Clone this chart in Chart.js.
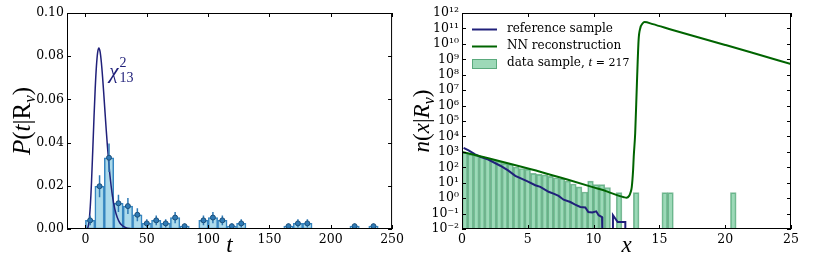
<!doctype html>
<html lang="en">
<head>
<meta charset="UTF-8" />
<title>Test statistic and NN reconstruction</title>
<script src="https://cdn.jsdelivr.net/npm/chart.js"></script>
<style>
    body { margin: 0; background: #fff; }
    #wrap { position: relative; width: 814px; height: 269px; }
    canvas { position: absolute; top: 0; }
</style>
</head>
<body>
<div id="wrap">
    <canvas id="left" width="407" height="269" style="left:0"></canvas>
    <canvas id="right" width="407" height="269" style="left:407px"></canvas>
</div>
<script>
// ---- left panel: distribution of t ----
const tCenters = [3.85, 11.55, 19.25, 26.95, 34.65, 42.35, 50.05, 57.75, 65.45, 73.15, 80.85, 88.55, 96.25, 103.95, 111.65, 119.35,
    127.05, 134.75, 142.45, 150.15, 157.85, 165.55, 173.25, 180.95, 188.65, 196.35, 204.05, 211.75, 219.45, 227.15, 234.85]
const tDensity = [0.0040, 0.0198, 0.0330, 0.0119, 0.0106, 0.0066, 0.0026, 0.0040, 0.0026, 0.0053, 0.0013, null, 0.0040, 0.0053, 0.0040, 0.0013,
    0.0026, null, null, null, null, 0.0013, 0.0026, 0.0026, null, null, null, null, 0.0013, null, 0.0013]
const tError = [0.0023, 0.0051, 0.0066, 0.0040, 0.0037, 0.0030, 0.0019, 0.0023, 0.0019, 0.0026, 0.0013, null, 0.0023, 0.0026, 0.0023, 0.0013,
    0.0019, null, null, null, null, 0.0013, 0.0019, 0.0019, null, null, null, null, 0.0013, null, 0.0013]
const chiT = [0, 1, 2, 3, 4, 5, 6, 7, 8, 9, 10, 11, 12, 13, 14, 15, 16, 17, 18, 19, 20, 22, 24, 26, 28, 30, 33, 36, 40]
const chiP = [0, 0.00002, 0.00064, 0.0036, 0.0106, 0.0220, 0.0364, 0.0515, 0.0651, 0.0755, 0.0818, 0.0838, 0.0820, 0.0772, 0.0704,
    0.0624, 0.0540, 0.0457, 0.0380, 0.0310, 0.0249, 0.0155, 0.0092, 0.0053, 0.0029, 0.0016, 0.0006, 0.0002, 0.00005]
const tTicks = [0, 50, 100, 150, 200, 250]
const pTicks = [0, 0.02, 0.04, 0.06, 0.08, 0.10]

// ---- right panel: n(x|R) ----
const xCenters = [0.217, 0.651, 1.085, 1.519, 1.953, 2.387, 2.821, 3.255, 3.689, 4.123, 4.557, 4.991, 5.425, 5.859, 6.293, 6.727,
    7.161, 7.595, 8.029, 8.463, 8.897, 9.331, 9.765, 10.199, 10.633, 11.067, 11.501, 11.935, 12.369, 12.803, 13.237, 13.671,
    14.105, 14.539, 14.973, 15.407, 15.841, 16.275, 16.709, 17.143, 17.577, 18.011, 18.445, 18.879, 19.313, 19.747, 20.181, 20.615]
const dataCounts = [900, 720, 580, 470, 380, 300, 245, 180, 160, 105, 83, 76, 40, 35, 32, 26,
    21, 18.5, 13, 8.3, 5.4, 2.5, 12.6, 7.6, 7.6, 4.9, null, 2.3, null, null, 2.3, null,
    null, null, null, 2.3, 2.3, null, null, null, null, null, null, null, null, null, null, 2.3]
const refX = [0.12, 0.5, 1.0, 1.39, 2.0, 2.91, 3.5, 4.05, 4.94, 5.57, 5.95, 6.58, 7.0, 7.34, 7.72, 8.23, 8.6, 8.99, 9.37, 9.6, 9.9,
    10.2, 10.38, 10.64, 10.66, 11.0, 11.47, 11.47, 11.83, 12.41, 12.41]
const refY = [1820, 1260, 690, 480, 316, 126, 63, 28, 12.6, 6.9, 5.4, 2.6, 1.9, 1.4, 0.79, 0.56, 0.38, 0.27, 0.25, 0.126, 0.117,
    0.14, 0.078, 0.06, 0.01, null, 0.01, 0.078, 0.028, 0.028, 0.01]
const nnX = [0, 2, 4, 6, 8, 10, 11, 12, 12.3, 12.5, 12.7, 12.8, 12.9, 13.0, 13.05, 13.16, 13.29, 13.42, 13.54, 13.72, 13.87,
    14.5, 16, 18, 20, 22, 25]
const nnY = [1000, 380, 141, 50, 16.2, 5.0, 2.75, 1.35, 1.15, 1.07, 1.41, 2.24, 5.2, 63, 500, 1.6e4, 2.5e7, 1.8e10, 1e11, 2.1e11, 2.6e11,
    1.9e11, 7.9e10, 2.6e10, 8.5e9, 2.75e9, 4.9e8]
const xTicks = [0, 5, 10, 15, 20, 25]
const nExps = [-2, -1, 0, 1, 2, 3, 4, 5, 6, 7, 8, 9, 10, 11, 12]

const NAVY = '#20207a'
const GREEN = '#006400'
const HIST_FILL = 'rgba(60,179,113,0.5)'
const HIST_EDGE = 'rgba(46,139,87,0.6)'
const SERIF = '"DejaVu Serif", serif'
const TITLE_SERIF = '"Liberation Serif", "DejaVu Serif", serif'
const tickFont = { family: SERIF, size: 12.5 }

const sup = { '-': '⁻', '0': '⁰', '1': '¹', '2': '²', '3': '³', '4': '⁴', '5': '⁵', '6': '⁶', '7': '⁷', '8': '⁸', '9': '⁹' }

// draws a run of text pieces, each with its own font and vertical shift
function drawRich(ctx, parts, x, y, align) {
    let w = 0
    for (const p of parts) {
        ctx.font = p.font
        w += ctx.measureText(p.text).width
    }
    let cx = align === 'center' ? x - w / 2 : x
    for (const p of parts) {
        ctx.font = p.font
        ctx.fillText(p.text, cx, y + (p.dy || 0))
        cx += ctx.measureText(p.text).width
    }
}

// black box with inward ticks on all four sides
const frame = {
    id: 'frame',
    afterDatasetsDraw(chart) {
        const { ctx, chartArea: a, scales: { x, y } } = chart
        ctx.save()
        ctx.strokeStyle = '#000'
        ctx.lineWidth = 1
        ctx.beginPath()
        for (const t of x.ticks) {
            const px = Math.round(x.getPixelForValue(t.value)) + 0.5
            ctx.moveTo(px, a.bottom); ctx.lineTo(px, a.bottom - 4)
            ctx.moveTo(px, a.top); ctx.lineTo(px, a.top + 4)
        }
        for (const t of y.ticks) {
            const py = Math.round(y.getPixelForValue(t.value)) + 0.5
            ctx.moveTo(a.left, py); ctx.lineTo(a.left + 4, py)
            ctx.moveTo(a.right, py); ctx.lineTo(a.right - 4, py)
        }
        ctx.stroke()
        ctx.strokeRect(a.left + 0.5, a.top + 0.5, a.width - 1, a.height - 1)
        ctx.restore()
    },
}

function axisTitles(xParts, yParts, yBase) {
    return {
        id: 'axisTitles',
        afterDraw(chart) {
            const { ctx, chartArea: a } = chart
            ctx.save()
            ctx.fillStyle = '#000'
            ctx.textBaseline = 'alphabetic'
            drawRich(ctx, xParts, (a.left + a.right) / 2, 252, 'center')
            ctx.translate(yBase, (a.top + a.bottom) / 2)
            ctx.rotate(-Math.PI / 2)
            drawRich(ctx, yParts, 0, 0, 'center')
            ctx.restore()
        },
    }
}

const IT = 'italic 23px ' + TITLE_SERIF
const RM = '23px ' + TITLE_SERIF
const SUB = 'italic 16px ' + TITLE_SERIF
const IT_L = 'italic 25px ' + TITLE_SERIF
const RM_L = '25px ' + TITLE_SERIF
const SUB_L = 'italic 17px ' + TITLE_SERIF

// error bars under the markers of the left panel
const errorBars = {
    id: 'errorBars',
    beforeDatasetDraw(chart, args) {
        if (args.index !== 2) return
        const { ctx, scales: { x, y } } = chart
        ctx.save()
        ctx.strokeStyle = '#2f7ab5'
        ctx.lineWidth = 1.5
        ctx.beginPath()
        tCenters.forEach((t, i) => {
            if (tDensity[i] === null) return
            const px = x.getPixelForValue(t)
            ctx.moveTo(px, y.getPixelForValue(Math.max(0, tDensity[i] - tError[i])))
            ctx.lineTo(px, y.getPixelForValue(tDensity[i] + tError[i]))
        })
        ctx.stroke()
        ctx.restore()
    },
}

const chiLabel = {
    id: 'chiLabel',
    afterDraw(chart) {
        const { ctx, scales: { x, y } } = chart
        const px = x.getPixelForValue(19.4)
        const py = y.getPixelForValue(0.0699)
        ctx.save()
        ctx.fillStyle = NAVY
        ctx.font = 'italic 21px ' + TITLE_SERIF
        ctx.fillText('χ', px, py)
        const w = ctx.measureText('χ').width
        ctx.font = '14px ' + TITLE_SERIF
        ctx.fillText('2', px + w + 1, py - 11)
        ctx.fillText('13', px + w + 1, py + 4)
        ctx.restore()
    },
}

const legendRight = {
    id: 'legendRight',
    afterDraw(chart) {
        const { ctx, chartArea: a } = chart
        const x0 = a.left + 10
        const tx = a.left + 45
        ctx.save()
        ctx.lineWidth = 2
        ctx.strokeStyle = NAVY
        ctx.beginPath(); ctx.moveTo(x0, 29.5); ctx.lineTo(x0 + 25, 29.5); ctx.stroke()
        ctx.strokeStyle = GREEN
        ctx.beginPath(); ctx.moveTo(x0, 46.5); ctx.lineTo(x0 + 25, 46.5); ctx.stroke()
        ctx.fillStyle = HIST_FILL
        ctx.fillRect(x0, 59, 25, 10)
        ctx.strokeStyle = HIST_EDGE
        ctx.lineWidth = 1
        ctx.strokeRect(x0 + 0.5, 59.5, 24, 9)
        ctx.fillStyle = '#000'
        ctx.textBaseline = 'middle'
        ctx.font = '12px ' + SERIF
        ctx.fillText('reference sample', tx, 29)
        ctx.fillText('NN reconstruction', tx, 46)
        drawRich(ctx, [
            { text: 'data sample, ', font: '12px ' + SERIF },
            { text: 't', font: 'italic 13px ' + TITLE_SERIF },
            { text: ' = 217', font: '11px ' + SERIF },
        ], tx, 63, 'left')
        ctx.restore()
    },
}

const baseTicks = { font: tickFont, color: '#000', autoSkip: false, maxRotation: 0, minRotation: 0 }

new Chart(document.getElementById('left'), {
    type: 'bar',
    data: {
        datasets: [
            {
                type: 'bar',
                data: tCenters.map((t, i) => ({ x: t, y: tDensity[i] })),
                backgroundColor: 'rgba(168,216,234,0.95)',
                borderColor: '#3685c0',
                borderWidth: 1.5,
                borderSkipped: false,
                barPercentage: 1,
                categoryPercentage: 1,
                order: 3,
            },
            {
                type: 'line',
                data: chiT.map((t, i) => ({ x: t, y: chiP[i] })),
                borderColor: NAVY,
                borderWidth: 1.5,
                pointRadius: 0,
                cubicInterpolationMode: 'monotone',
                order: 2,
            },
            {
                type: 'line',
                showLine: false,
                data: tCenters.map((t, i) => ({ x: t, y: tDensity[i] })).filter(p => p.y !== null),
                pointRadius: 2.5,
                pointBackgroundColor: '#2f7ab5',
                pointBorderColor: '#1b4f7a',
                pointBorderWidth: 1,
                order: 1,
            },
        ],
    },
    options: {
        responsive: false,
        animation: false,
        layout: { padding: { top: 13, right: 11, left: 0, bottom: 0 } },
        plugins: { legend: { display: false }, tooltip: { enabled: false } },
        scales: {
            x: {
                type: 'linear', min: -15, max: 250, offset: false,
                grid: { display: false, drawTicks: false }, border: { display: false },
                ticks: { ...baseTicks, padding: 3 },
                afterBuildTicks: s => { s.ticks = tTicks.map(v => ({ value: v })) },
                afterFit: s => { s.height = 40 },
            },
            y: {
                type: 'linear', min: 0, max: 0.1,
                grid: { display: false, drawTicks: false }, border: { display: false },
                ticks: { ...baseTicks, padding: 3, callback: v => v.toFixed(2) },
                afterBuildTicks: s => { s.ticks = pTicks.map(v => ({ value: v })) },
                afterFit: s => { s.width = 67 },
            },
        },
    },
    plugins: [frame, errorBars, chiLabel, axisTitles(
        [{ text: 't', font: IT }],
        [{ text: 'P', font: IT_L }, { text: '(', font: RM_L }, { text: 't', font: IT_L }, { text: '|R', font: RM_L },
            { text: 'ν', font: SUB_L, dy: 5 }, { text: ')', font: RM_L }],
        30)],
})

new Chart(document.getElementById('right'), {
    type: 'bar',
    data: {
        datasets: [
            {
                type: 'bar',
                data: xCenters.map((x, i) => ({ x, y: dataCounts[i] })),
                backgroundColor: HIST_FILL,
                borderColor: HIST_EDGE,
                borderWidth: 1,
                barPercentage: 1,
                categoryPercentage: 1,
                order: 3,
            },
            {
                type: 'line',
                data: refX.map((x, i) => ({ x, y: refY[i] })),
                borderColor: NAVY,
                borderWidth: 2,
                pointRadius: 0,
                spanGaps: false,
                order: 2,
            },
            {
                type: 'line',
                data: nnX.map((x, i) => ({ x, y: nnY[i] })),
                borderColor: GREEN,
                borderWidth: 2,
                pointRadius: 0,
                cubicInterpolationMode: 'monotone',
                order: 1,
            },
        ],
    },
    options: {
        responsive: false,
        animation: false,
        layout: { padding: { top: 13, right: 23, left: 0, bottom: 0 } },
        plugins: { legend: { display: false }, tooltip: { enabled: false } },
        scales: {
            x: {
                type: 'linear', min: 0, max: 25, offset: false,
                grid: { display: false, drawTicks: false }, border: { display: false },
                ticks: { ...baseTicks, padding: 3 },
                afterBuildTicks: s => { s.ticks = xTicks.map(v => ({ value: v })) },
                afterFit: s => { s.height = 40 },
            },
            y: {
                type: 'logarithmic', min: 0.01, max: 1e12,
                grid: { display: false, drawTicks: false }, border: { display: false },
                ticks: {
                    ...baseTicks, padding: 3,
                    callback: v => '10' + String(Math.round(Math.log10(v))).split('').map(c => sup[c]).join(''),
                },
                afterBuildTicks: s => { s.ticks = nExps.map(e => ({ value: Math.pow(10, e) })) },
                afterFit: s => { s.width = 55 },
            },
        },
    },
    plugins: [frame, legendRight, axisTitles(
        [{ text: 'x', font: IT }],
        [{ text: 'n', font: IT }, { text: '(', font: RM }, { text: 'x', font: IT }, { text: '|', font: RM },
            { text: 'R', font: IT }, { text: 'ν', font: SUB, dy: 5 }, { text: ')', font: RM }],
        22)],
})
</script>
</body>
</html>
